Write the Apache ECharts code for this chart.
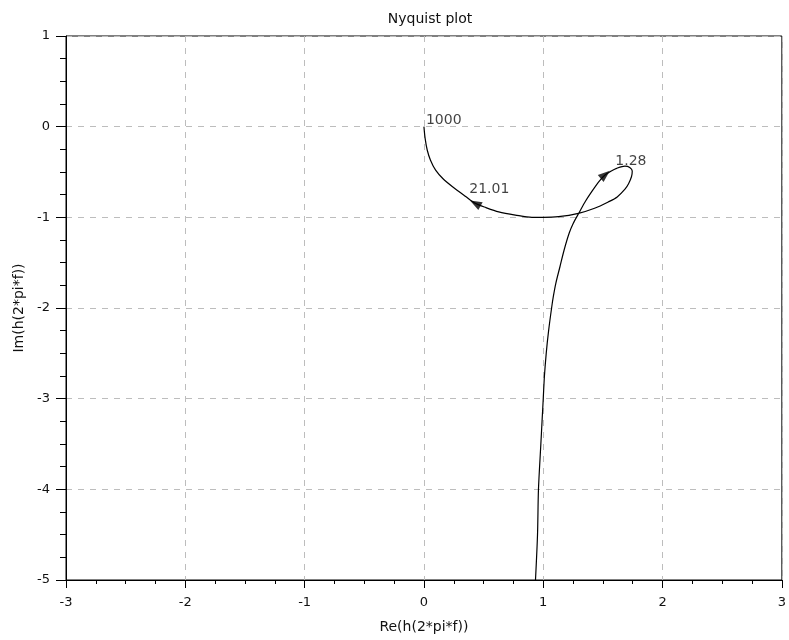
<!DOCTYPE html>
<html>
<head>
<meta charset="utf-8">
<script src="https://cdn.jsdelivr.net/npm/echarts@6/dist/echarts.min.js"></script>
<style>html,body{margin:0;padding:0;background:#fff}#c{width:789px;height:640px}</style>
</head>
<body>
<div id="c"></div>
<script>
// Nyquist curve, ordered from low frequency (bottom) to high frequency (origin)
var reVals = [0.935, 0.952, 0.96, 0.98, 0.99, 1.00, 1.01, 1.025, 1.045, 1.07, 1.085, 1.105, 1.14, 1.175, 1.217, 1.25, 1.30, 1.355, 1.415, 1.47, 1.52, 1.57, 1.615, 1.685, 1.725, 1.746, 1.74, 1.715, 1.685, 1.62, 1.545, 1.43, 1.295, 1.128, 1.0, 0.905, 0.766, 0.627, 0.52, 0.43, 0.35, 0.237, 0.16, 0.098, 0.055, 0.028, 0.01, 0.0];
var imVals = [-5, -4.5, -4, -3.5, -3.25, -3, -2.75, -2.5, -2.25, -2, -1.87, -1.73, -1.545, -1.36, -1.176, -1.07, -0.95, -0.82, -0.70, -0.60, -0.53, -0.49, -0.46, -0.435, -0.45, -0.49, -0.55, -0.63, -0.69, -0.775, -0.83, -0.90, -0.956, -0.993, -1.0, -1.0, -0.975, -0.94, -0.893, -0.845, -0.77, -0.66, -0.575, -0.48, -0.37, -0.26, -0.13, 0.0];
// indices on the curve where arrows / frequency labels are drawn
var arrowIdx = [20, 39];
var labelIdx = [47, 39, 20];
var labelText = ['1000', '21.01', '1.28'];
var xTicks = [-3, -2, -1, 0, 1, 2, 3];
var yTicks = [-5, -4, -3, -2, -1, 0, 1];

var FONT = 'DejaVu Sans';
var curve = reVals.map(function (r, i) { return [r, imVals[i]]; });
var labelOffsets = [[2, 1], [-6, -7], [10, -6]];

var chart = echarts.init(document.getElementById('c'), null, {renderer: 'canvas'});
function axisCommon(name, isY) {
  return {
    type: 'value',
    name: name,
    nameLocation: 'middle',
    nameGap: isY ? 39 : 40,
    nameTextStyle: {color: '#111', fontFamily: FONT, fontSize: 14},
    axisLine: {show: true, onZero: false, lineStyle: {color: '#000', width: 1}},
    axisTick: {show: true, inside: false, length: isY ? 10 : 8, lineStyle: {color: '#000'}},
    minorTick: {show: true, splitNumber: 4, length: isY ? 6 : 4, lineStyle: {color: '#000'}},
    axisLabel: {color: '#111', fontFamily: FONT, fontSize: 13, margin: 16},
    splitLine: {show: true, lineStyle: {color: '#bdbdbd', type: [6, 6], width: 1}}
  };
}
var xAxis = axisCommon('Re(h(2*pi*f))', false);
xAxis.min = xTicks[0]; xAxis.max = xTicks[xTicks.length - 1]; xAxis.interval = 1;
var yAxis = axisCommon('Im(h(2*pi*f))', true);
yAxis.min = yTicks[0]; yAxis.max = yTicks[yTicks.length - 1]; yAxis.interval = 1;

var option = {
  animation: false,
  backgroundColor: '#fff',
  title: {
    text: 'Nyquist plot', left: 425, top: 7, textAlign: 'center',
    textStyle: {color: '#111', fontFamily: FONT, fontSize: 14, fontWeight: 'normal'}
  },
  grid: {left: 66, right: 4, top: 36, bottom: 60, show: true, borderColor: '#000', borderWidth: 1, containLabel: false},
  xAxis: xAxis,
  yAxis: yAxis,
  series: [
    {
      type: 'line', data: curve, showSymbol: false, smooth: 0.3,
      lineStyle: {color: '#000', width: 1.2, join: 'round'}, z: 3
    },
    {
      type: 'scatter', symbol: 'triangle', symbolSize: [9, 12],
      data: arrowIdx.map(function (k) { return {value: curve[k]}; }),
      itemStyle: {color: '#000'}, z: 4
    },
    {
      type: 'scatter', symbolSize: 1,
      data: labelIdx.map(function (k, j) {
        return {
          value: curve[k],
          label: {show: true, formatter: labelText[j], position: 'inside', align: 'left', verticalAlign: 'bottom',
                  offset: labelOffsets[j], color: '#111', fontFamily: FONT, fontSize: 14}
        };
      }),
      itemStyle: {color: 'rgba(0,0,0,0)'}, z: 5
    }
  ]
};
chart.setOption(option);

// orient arrows along the curve's local direction (increasing frequency)
var arrowData = arrowIdx.map(function (k) {
  var a = chart.convertToPixel({gridIndex: 0}, curve[k - 1]);
  var b = chart.convertToPixel({gridIndex: 0}, curve[k + 1]);
  var ang = Math.atan2(-(b[1] - a[1]), b[0] - a[0]) * 180 / Math.PI;
  return {value: curve[k], symbolRotate: ang - 90};
});
chart.setOption({series: [{}, {data: arrowData}, {}]});
</script>
</body>
</html>
